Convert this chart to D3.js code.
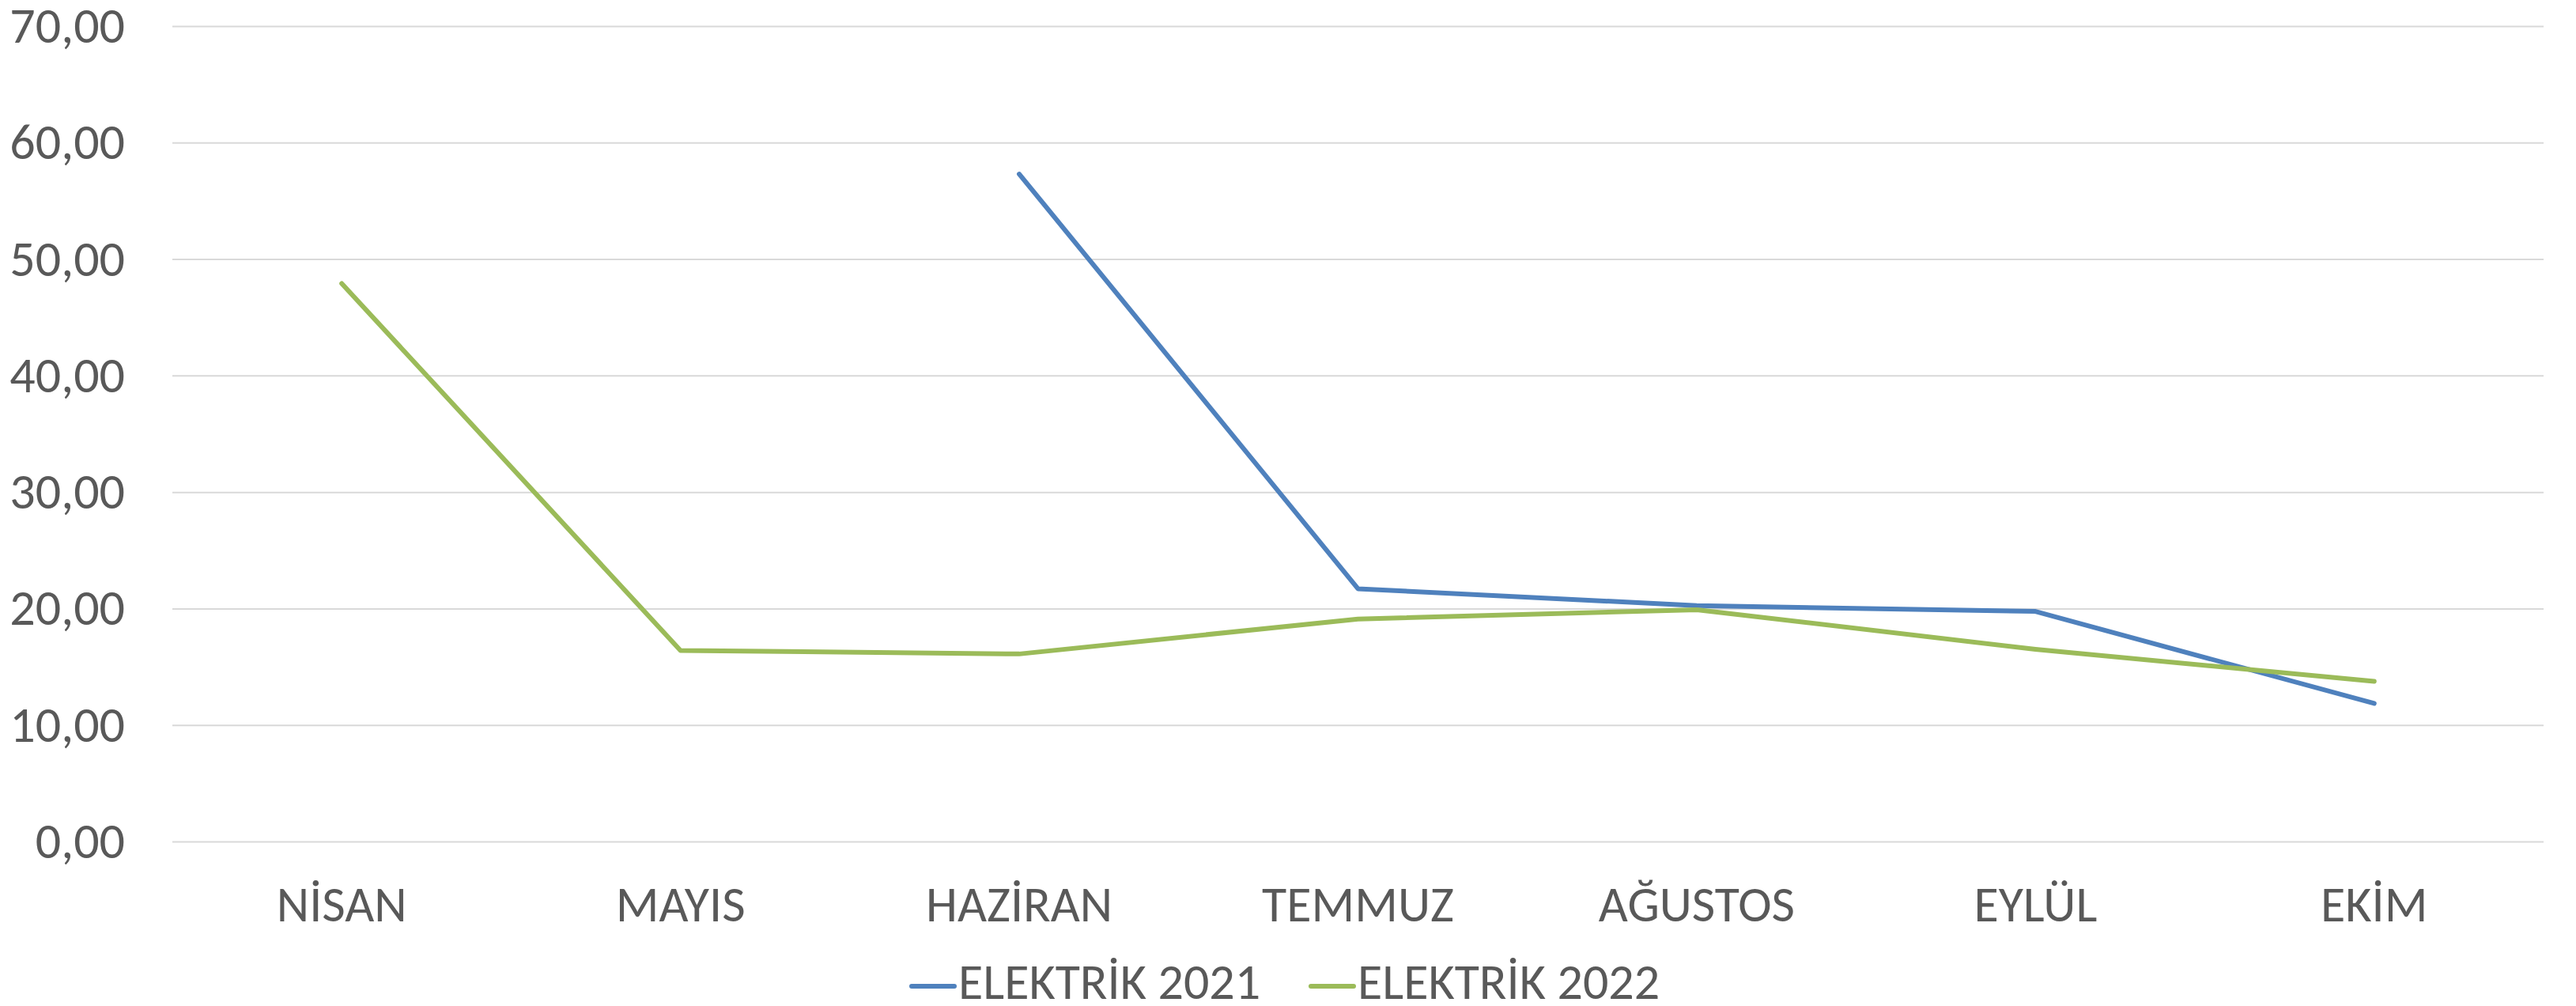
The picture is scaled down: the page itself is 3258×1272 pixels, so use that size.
<!DOCTYPE html>
<html>
<head>
<meta charset="utf-8">
<script src="https://cdn.jsdelivr.net/npm/d3@7"></script>
<style>
  body { margin: 0; background: #fff; }
  text { font-family: Carlito, Calibri, "Liberation Sans Narrow", "DejaVu Sans Condensed", "Open Sans", sans-serif; fill: #595959; }
</style>
</head>
<body>
<svg id="chart" width="3258" height="1272"></svg>
<script>
const months = ["NİSAN", "MAYIS", "HAZİRAN", "TEMMUZ", "AĞUSTOS", "EYLÜL", "EKİM"];
const elektrik2021 = [null, null, 57.3, 21.7, 20.25, 19.75, 11.85];
const elektrik2022 = [47.9, 16.4, 16.1, 19.1, 19.9, 16.5, 13.75];
const yTicks = [0, 10, 20, 30, 40, 50, 60, 70];

const seriesList = [
  { name: "ELEKTRİK 2021", values: elektrik2021, color: "#4f81bd" },
  { name: "ELEKTRİK 2022", values: elektrik2022, color: "#9bbb59" }
];

const svg = d3.select("#chart");
const margin = { left: 218, right: 41, top: 33, bottom: 208 };
const W = +svg.attr("width"), H = +svg.attr("height");

const xScale = d3.scaleBand()
  .domain(months)
  .range([margin.left, W - margin.right]);

const yScale = d3.scaleLinear()
  .domain([0, 70])
  .range([H - margin.bottom, margin.top]);

const trFormat = d3.formatLocale({ decimal: ",", thousands: ".", grouping: [3], currency: ["", "₺"] }).format(".2f");

// grid + y labels
const yAxis = svg.append("g")
  .attr("transform", `translate(${margin.left},0)`)
  .call(d3.axisLeft(yScale)
    .tickValues(yTicks)
    .tickSize(-(W - margin.left - margin.right))
    .tickPadding(60)
    .tickFormat(trFormat));
yAxis.select(".domain").remove();
yAxis.selectAll(".tick line").attr("stroke", "#d9d9d9").attr("stroke-width", 2);
yAxis.selectAll(".tick text").attr("font-size", 64).attr("fill", "#595959");

// x labels
const xAxis = svg.append("g")
  .attr("transform", `translate(0,${H - margin.bottom})`)
  .call(d3.axisBottom(xScale).tickSize(0).tickPadding(56));
xAxis.select(".domain").remove();
xAxis.selectAll(".tick text").attr("font-size", 64).attr("fill", "#595959");

// lines
const line = d3.line()
  .defined(d => d != null)
  .x((d, i) => xScale(months[i]) + xScale.bandwidth() / 2)
  .y(d => yScale(d));

svg.selectAll(".series")
  .data(seriesList)
  .join("path")
  .attr("class", "series")
  .attr("fill", "none")
  .attr("stroke", d => d.color)
  .attr("stroke-width", 6)
  .attr("stroke-linecap", "round")
  .attr("stroke-linejoin", "round")
  .attr("d", d => line(d.values));

// legend
const legendX = [1153, 1658];
const legend = svg.selectAll(".legend")
  .data(seriesList)
  .join("g")
  .attr("class", "legend")
  .attr("transform", (d, i) => `translate(${legendX[i]},1247)`);
legend.append("line")
  .attr("x1", 0).attr("x2", 54)
  .attr("stroke", d => d.color)
  .attr("stroke-width", 6)
  .attr("stroke-linecap", "round");
legend.append("text")
  .attr("x", 59)
  .attr("y", 16)
  .attr("font-size", 64)
  .text(d => d.name);
</script>
</body>
</html>
